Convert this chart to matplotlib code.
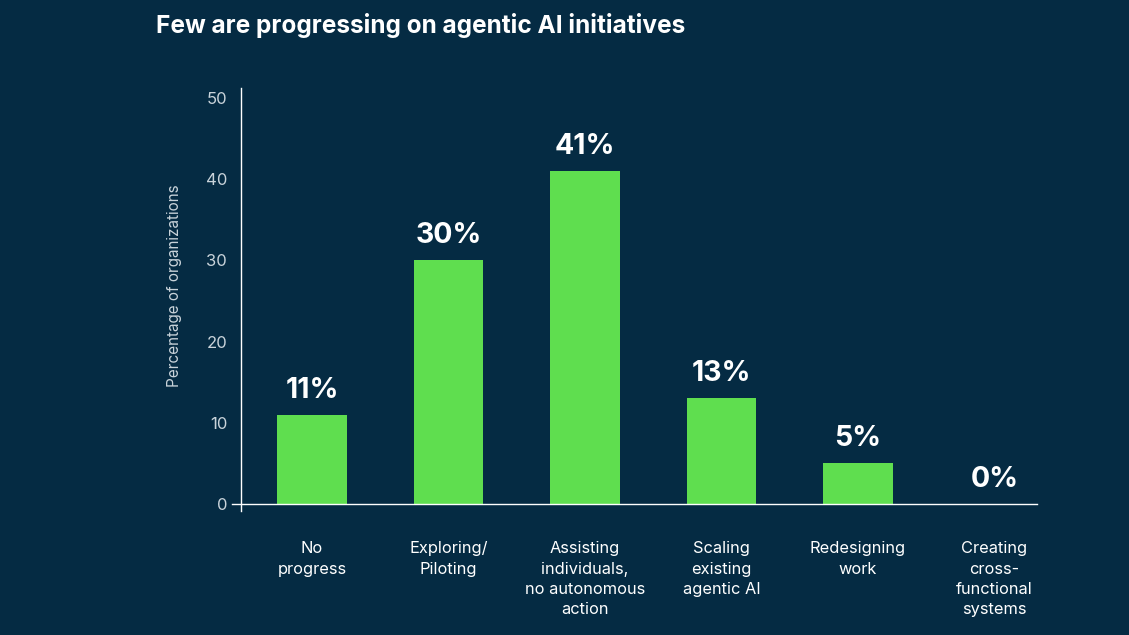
import matplotlib.pyplot as plt

# Chart data
categories = [
    "No\nprogress",
    "Exploring/\nPiloting",
    "Assisting\nindividuals,\nno autonomous\naction",
    "Scaling\nexisting\nagentic AI",
    "Redesigning\nwork",
    "Creating\ncross-\nfunctional\nsystems",
]
values = [11, 30, 41, 13, 5, 0]
value_labels = ["11%", "30%", "41%", "13%", "5%", "0%"]
y_ticks = [0, 10, 20, 30, 40, 50]

BG = "#052b43"
GREEN = "#5fde4f"
TICK_GRAY = "#c9d3da"

plt.rcParams["font.family"] = ["Inter", "DejaVu Sans"]

fig = plt.figure(figsize=(11.29, 6.35), dpi=100, facecolor=BG)
ax = fig.add_axes([0.2055, 0.1953, 0.7130, 0.6661])
ax.set_facecolor(BG)

x = range(len(categories))
ax.bar(x, values, width=0.51, color=GREEN, zorder=2)

# Value labels above the bars
for xi, v, lab in zip(x, values, value_labels):
    ax.annotate(lab, (xi, v), xytext=(0, 8), textcoords="offset points",
                ha="center", va="bottom", color="white",
                fontsize=20.5, fontweight="bold")

ax.set_xlim(-0.586, 5.311)
ax.set_ylim(-0.86, 51.2)

# Axis styling
for side in ["top", "right"]:
    ax.spines[side].set_visible(False)
ax.spines["left"].set_position(("data", -0.52))
ax.spines["bottom"].set_position(("data", 0))
ax.spines["left"].set_color("white")
ax.spines["bottom"].set_color("white")
ax.spines["left"].set_linewidth(1.0)
ax.spines["bottom"].set_linewidth(1.0)

ax.set_yticks(y_ticks)
ax.set_yticklabels([str(t) for t in y_ticks])
ax.tick_params(axis="y", length=0, pad=10, colors=TICK_GRAY, labelsize=12)

ax.set_xticks(list(x))
ax.set_xticklabels(categories)
ax.tick_params(axis="x", length=0, pad=27, colors="white", labelsize=11.8)
for lbl in ax.get_xticklabels():
    lbl.set_linespacing(1.42)
    lbl.set_verticalalignment("top")

fig.text(175 / 1129, 1 - 286 / 635, "Percentage of organizations",
         rotation=90, ha="center", va="center", color=TICK_GRAY, fontsize=11)

fig.text(156 / 1129, 1 - 26 / 635, "Few are progressing on agentic AI initiatives",
         ha="left", va="center", color="white", fontsize=17.6, fontweight="bold")

fig.savefig("out.png", dpi=100, facecolor=BG)
